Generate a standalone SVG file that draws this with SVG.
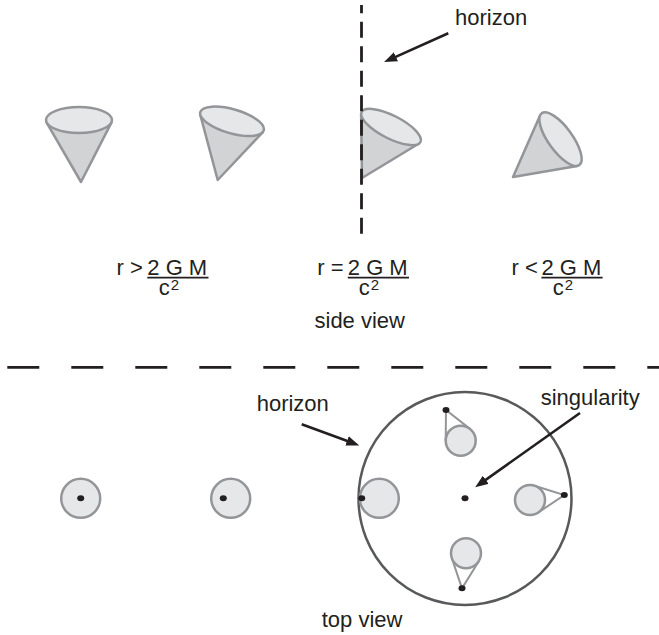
<svg xmlns="http://www.w3.org/2000/svg" width="659" height="635" viewBox="0 0 659 635">
  <style>
    .lbl { font-family: "Liberation Sans", Arial, sans-serif; font-size: 22px; fill: #231f20; }
    .sup { font-size: 15px; }
    .body { fill: #d1d3d4; stroke: #939598; stroke-width: 2.5; stroke-linejoin: round; }
    .rim { fill: #e6e7e8; stroke: #939598; stroke-width: 2.5; }
    .disc { fill: #e6e7e8; stroke: #939598; stroke-width: 2.5; }
    .ray { fill: none; stroke: #939598; stroke-width: 2; }
    .dot { fill: #231f20; }
    .dash { fill: none; stroke: #231f20; stroke-width: 2.8; }
    .bar { stroke: #231f20; stroke-width: 1.6; }
    .arrow { fill: none; stroke: #231f20; stroke-width: 2.6; marker-end: url(#head); }
  </style>
  <defs>
    <marker id="head" viewBox="0 0 13 10" refX="4" refY="5" markerWidth="13" markerHeight="10" markerUnits="userSpaceOnUse" orient="auto">
      <path d="M0,0 L13,5 L0,10 z" fill="#231f20"/>
    </marker>
  </defs>

  <rect width="659" height="635" fill="#ffffff"/>

  <!-- side view: light cones -->
  <g id="cone-far">
    <polygon class="body" points="46.8,122.9 81,182 111.4,122.6"/>
    <ellipse class="rim" cx="79" cy="120" rx="33" ry="13"/>
  </g>
  <g id="cone-near">
    <polygon class="body" points="200.3,114.9 217.7,180 262.6,132.4"/>
    <ellipse class="rim" cx="232" cy="121.3" rx="33" ry="12" transform="rotate(16 232 121.3)"/>
  </g>
  <g id="cone-horizon">
    <polygon class="body" points="361.1,114.1 362,178 418.6,143.8"/>
    <ellipse class="rim" cx="391" cy="127" rx="33" ry="11.5" transform="rotate(27 391 127)"/>
  </g>
  <g id="cone-inside">
    <polygon class="body" points="540.05,115.4 513,177 577.2,165.9"/>
    <ellipse class="rim" cx="560.5" cy="139.2" rx="32" ry="12" transform="rotate(54 560.5 139.2)"/>
  </g>

  <!-- side view: horizon line -->
  <g id="horizon-side">
    <line class="dash" x1="361.5" y1="5" x2="361.5" y2="234" stroke-dasharray="16 8.5" stroke-dashoffset="7.8"/>
    <text class="lbl" x="455" y="25">horizon</text>
  </g>

  <!-- radius conditions -->
  <g id="cond-outside">
    <text class="lbl" x="116.6" y="275">r &gt;</text>
    <text class="lbl" x="147.3" y="275">2 G M</text>
    <line class="bar" x1="147.3" y1="277.6" x2="208.5" y2="277.6"/>
    <text class="lbl" x="158.7" y="295">c<tspan class="sup" dx="1" dy="-5.5">2</tspan></text>
  </g>
  <g id="cond-equal">
    <text class="lbl" x="317.2" y="275">r =</text>
    <text class="lbl" x="347.8" y="275">2 G M</text>
    <line class="bar" x1="347.8" y1="277.6" x2="409" y2="277.6"/>
    <text class="lbl" x="358.7" y="295">c<tspan class="sup" dx="1" dy="-5.5">2</tspan></text>
  </g>
  <g id="cond-inside">
    <text class="lbl" x="511.6" y="275">r &lt;</text>
    <text class="lbl" x="541.4" y="275">2 G M</text>
    <line class="bar" x1="541.4" y1="277.6" x2="602.6" y2="277.6"/>
    <text class="lbl" x="552.7" y="295">c<tspan class="sup" dx="1" dy="-5.5">2</tspan></text>
  </g>
  <text id="caption-side" class="lbl" x="314.5" y="328">side view</text>

  <!-- separator -->
  <line id="separator" class="dash" x1="7.3" y1="367.3" x2="659" y2="367.3" stroke-dasharray="32 32"/>

  <!-- top view -->
  <g id="disc-far">
    <circle class="disc" cx="80.7" cy="498.3" r="19.5"/>
    <ellipse class="dot" cx="80.7" cy="498.3" rx="3.5" ry="3"/>
  </g>
  <g id="disc-near">
    <circle class="disc" cx="230.7" cy="498.3" r="19.5"/>
    <ellipse class="dot" cx="223.3" cy="498.3" rx="3.5" ry="3"/>
  </g>

  <g id="horizon-top">
    <circle cx="465" cy="498.5" r="106.5" fill="none" stroke="#58595b" stroke-width="2.5"/>
  </g>

  <g id="disc-horizon">
    <circle class="disc" cx="379.3" cy="498.3" r="19.5"/>
    <ellipse class="dot" cx="361.7" cy="498.3" rx="3.5" ry="3"/>
  </g>
  <g id="disc-up">
    <polyline class="ray" points="445.7,440.6 446,410 470,428.9"/>
    <circle class="disc" cx="460.7" cy="440.7" r="15"/>
    <ellipse class="dot" cx="446" cy="410" rx="3.5" ry="3"/>
  </g>
  <g id="disc-right">
    <polyline class="ray" points="538.4,512.4 564.3,495 534.5,485.7"/>
    <circle class="disc" cx="530" cy="500" r="15"/>
    <ellipse class="dot" cx="564.3" cy="495" rx="3.5" ry="3"/>
  </g>
  <g id="disc-down">
    <polyline class="ray" points="451.8,558.1 462,588.3 478.8,561.2"/>
    <circle class="disc" cx="466" cy="553.3" r="15"/>
    <ellipse class="dot" cx="462" cy="588.3" rx="3.5" ry="3"/>
  </g>
  <g id="singularity">
    <ellipse class="dot" cx="465" cy="498.3" rx="3.5" ry="3"/>
    <text class="lbl" x="540.7" y="405">singularity</text>
  </g>
  <text id="label-horizon-top" class="lbl" x="256.7" y="410.7">horizon</text>
  <text id="caption-top" class="lbl" x="321.7" y="626.7">top view</text>

  <!-- pointers -->
  <g id="connectors">
    <line class="arrow" x1="448.3" y1="33.3" x2="392.3" y2="58.4"/>
    <line class="arrow" x1="301.7" y1="424.3" x2="350.8" y2="442.3"/>
    <line class="arrow" x1="580" y1="413" x2="482.5" y2="482.1"/>
  </g>
</svg>
